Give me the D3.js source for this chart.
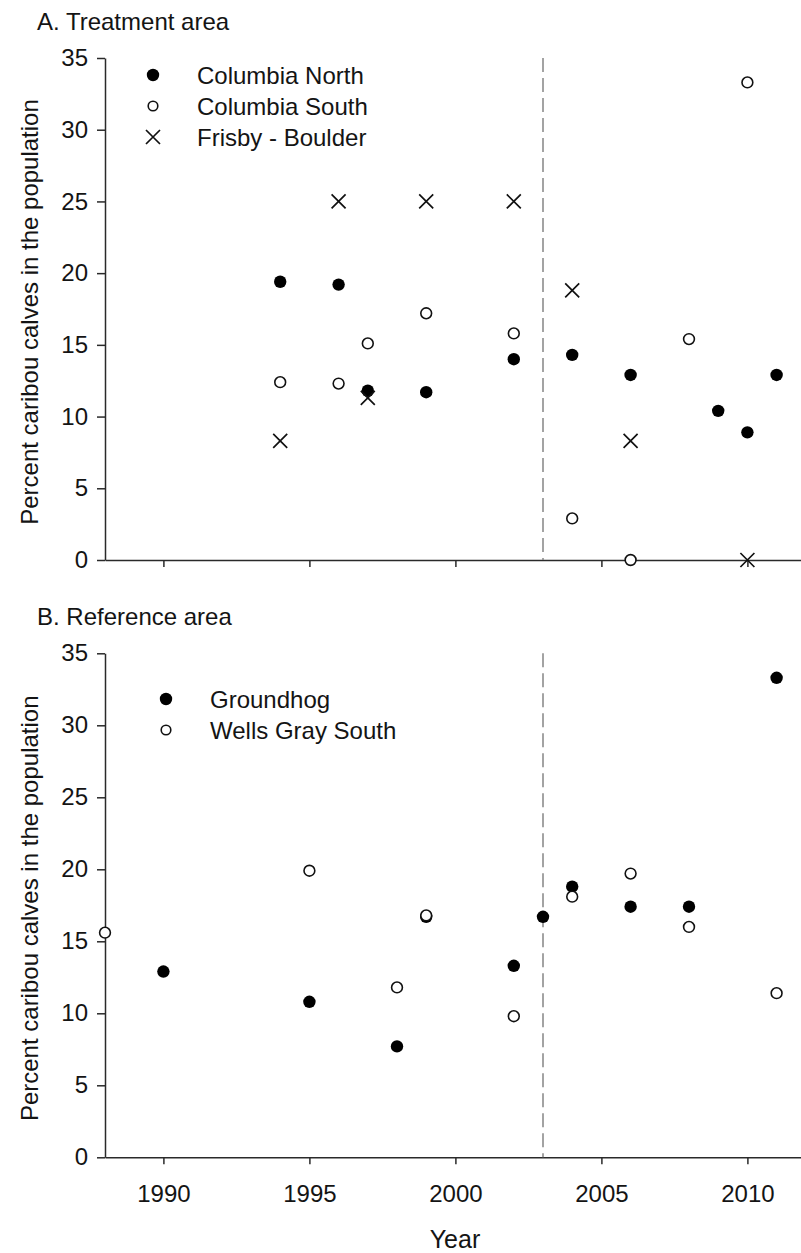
<!DOCTYPE html>
<html>
<head>
<meta charset="utf-8">
<script src="https://cdn.jsdelivr.net/npm/d3@7"></script>
<style>
  html, body { margin: 0; padding: 0; background: #fff; }
  svg { display: block; font-family: "Liberation Sans", Arial, sans-serif; }
</style>
</head>
<body>
<svg id="chart" width="801" height="1253"></svg>
<script>
// ---- Data ----
const yTickValues = [0, 5, 10, 15, 20, 25, 30, 35];
const xTickValues = [1990, 1995, 2000, 2005, 2010];
const treatmentYear = 2003;

// Panel A: Treatment area
const colNorthYears = [1994, 1996, 1997, 1999, 2002, 2004, 2006, 2009, 2010, 2011];
const colNorthVals  = [19.4, 19.2, 11.8, 11.7, 14.0, 14.3, 12.9, 10.4, 8.9, 12.9];
const colSouthYears = [1994, 1996, 1997, 1999, 2002, 2004, 2006, 2008, 2010];
const colSouthVals  = [12.4, 12.3, 15.1, 17.2, 15.8, 2.9, 0, 15.4, 33.3];
const frisbyYears   = [1994, 1996, 1997, 1999, 2002, 2004, 2006, 2010];
const frisbyVals    = [8.3, 25, 11.3, 25, 25, 18.8, 8.3, 0];

// Panel B: Reference area
const groundhogYears = [1990, 1995, 1998, 1999, 2002, 2003, 2004, 2006, 2008, 2011];
const groundhogVals  = [12.9, 10.8, 7.7, 16.7, 13.3, 16.7, 18.8, 17.4, 17.4, 33.3];
const wellsYears     = [1988, 1995, 1998, 1999, 2002, 2004, 2006, 2008, 2011];
const wellsVals      = [15.6, 19.9, 11.8, 16.8, 9.8, 18.1, 19.7, 16.0, 11.4];

const zip = (xs, ys) => xs.map((x, i) => ({ x, y: ys[i] }));

// ---- Layout ----
const svg = d3.select("#chart");
const FONT = 24;
const AXIS_COLOR = "#2a2a2a";
const TEXT_COLOR = "#141414";

const x = d3.scaleLinear().domain([1988, 2012]).range([105, 805.8]);

const panels = [
  {
    title: "A. Treatment area", titleY: 30,
    yRange: [560, 58], showXLabels: false,
    legendX: 153, legendY: 75,
    series: [
      { name: "Columbia North", type: "filled", data: zip(colNorthYears, colNorthVals) },
      { name: "Columbia South", type: "open", data: zip(colSouthYears, colSouthVals) },
      { name: "Frisby - Boulder", type: "x", data: zip(frisbyYears, frisbyVals) }
    ]
  },
  {
    title: "B. Reference area", titleY: 625,
    yRange: [1157.3, 653.3], showXLabels: true,
    legendX: 166, legendY: 699,
    series: [
      { name: "Groundhog", type: "filled", data: zip(groundhogYears, groundhogVals) },
      { name: "Wells Gray South", type: "open", data: zip(wellsYears, wellsVals) }
    ]
  }
];

function drawMarker(g, type, cx, cy, legend) {
  if (type === "filled") {
    g.append("circle").attr("cx", cx).attr("cy", cy).attr("r", 6.2)
      .attr("fill", "#000");
  } else if (type === "open") {
    g.append("circle").attr("cx", cx).attr("cy", cy).attr("r", legend ? 4.8 : 5.4)
      .attr("fill", "#fff").attr("stroke", "#111").attr("stroke-width", 1.6);
  } else {
    const s = 7;
    g.append("path")
      .attr("d", `M${cx - s},${cy - s}L${cx + s},${cy + s}M${cx - s},${cy + s}L${cx + s},${cy - s}`)
      .attr("stroke", "#111").attr("stroke-width", 1.7).attr("fill", "none");
  }
}

panels.forEach(p => {
  const y = d3.scaleLinear().domain([0, 35]).range(p.yRange);
  const g = svg.append("g");

  // Title
  g.append("text").attr("x", 37).attr("y", p.titleY)
    .attr("font-size", FONT).attr("fill", TEXT_COLOR).text(p.title);

  // Y axis
  const yAxis = g.append("g").attr("transform", `translate(${x.range()[0]},0)`)
    .call(d3.axisLeft(y).tickValues(yTickValues).tickSize(8).tickPadding(9).tickSizeOuter(0));
  // X axis
  const xAxis = g.append("g").attr("transform", `translate(0,${y(0)})`)
    .call(d3.axisBottom(x).tickValues(xTickValues).tickSize(7).tickPadding(21).tickSizeOuter(0)
      .tickFormat(p.showXLabels ? d3.format("d") : () => ""));

  [yAxis, xAxis].forEach(ax => {
    ax.selectAll("path, line").attr("stroke", AXIS_COLOR).attr("stroke-width", 1.5);
    ax.selectAll("text").attr("font-size", FONT).attr("fill", TEXT_COLOR)
      .attr("font-family", "\"Liberation Sans\", Arial, sans-serif");
  });

  // Y axis label
  const yMid = (p.yRange[0] + p.yRange[1]) / 2 + 3;
  g.append("text")
    .attr("transform", `translate(38,${yMid}) rotate(-90)`)
    .attr("text-anchor", "middle").attr("font-size", FONT).attr("fill", TEXT_COLOR)
    .text("Percent caribou calves in the population");

  // Dashed treatment line
  g.append("line")
    .attr("x1", x(treatmentYear)).attr("x2", x(treatmentYear))
    .attr("y1", y(35)).attr("y2", y(0))
    .attr("stroke", "#858585").attr("stroke-width", 1.5)
    .attr("stroke-dasharray", "14,6");

  // Data markers
  const marks = g.append("g");
  p.series.forEach(s => {
    s.data.forEach(d => drawMarker(marks, s.type, x(d.x), y(d.y), false));
  });

  // Legend
  const leg = g.append("g");
  p.series.forEach((s, i) => {
    const ly = p.legendY + i * 31;
    drawMarker(leg, s.type, p.legendX, ly, true);
    leg.append("text").attr("x", p.legendX + 44).attr("y", ly).attr("dy", "0.36em")
      .attr("font-size", FONT).attr("fill", TEXT_COLOR).text(s.name);
  });
});

// X axis title
svg.append("text").attr("x", 455).attr("y", 1248)
  .attr("text-anchor", "middle").attr("font-size", 25).attr("fill", TEXT_COLOR)
  .text("Year");
</script>
</body>
</html>
